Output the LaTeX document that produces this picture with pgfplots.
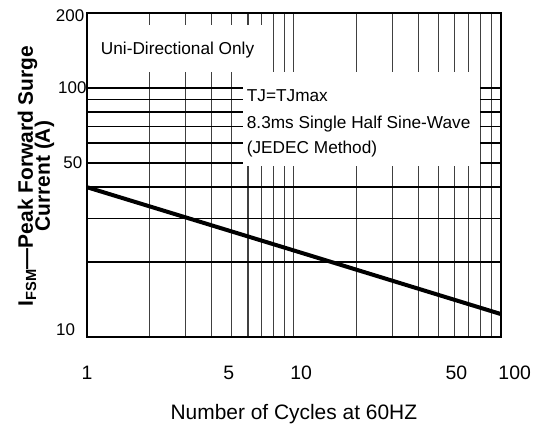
\documentclass[border=0pt]{standalone}
\usepackage{pgfplots}
\pgfplotsset{compat=1.18}
\usepackage{fontspec}
\setmainfont{Liberation Sans}

% surge current vs number of cycles
\pgfplotstableread{
n     I
1     40
10    22.3
100   12.4
}\surge

\begin{document}
\begin{tikzpicture}
\begin{axis}[
  name=ax,
  scale only axis,
  width=413.7bp, height=324.3bp,
  clip=false,
  xmode=log, ymode=log,
  xmin=1, xmax=100, ymin=10, ymax=200,
  xtick={1,4.84,10.85,61.1},
  xticklabels={1,5,10,50},
  extra x ticks={100},
  extra x tick labels={100},
  extra x tick style={xticklabel style={xshift=14bp}},
  ytick={10.75,50,100,196},
  yticklabels={10\hspace*{11.5bp},50\hspace*{4.3bp},100,200\hspace*{2.3bp}},
  minor xtick={2,3,4,5,6,7,8,9,10,20,30,40,50,60,70,80,90},
  minor ytick={20,30,40,50,60,70,80,90,100},
  xminorgrids, yminorgrids,
  minor x grid style={line width=1.2bp, color=black!75},
  minor y grid style={line width=1.7bp, color=black},
  major tick length=0pt, minor tick length=0pt,
  axis line style={line width=1.8bp},
  /pgf/number format/assume math mode=true,
  xticklabel style={font=\fontsize{19.5}{19.5}\selectfont, yshift=-25bp},
  yticklabel style={font=\fontsize{17}{17}\selectfont, xshift=3bp},
  xlabel={Number of Cycles at 60HZ},
  xlabel style={font=\fontsize{21}{21}\selectfont, yshift=-18bp},
]
% white boxes that hide the grid behind the notes
\fill[white] (rel axis cs:0.005,0.963) rectangle (rel axis cs:0.441,0.819);
\fill[white] (rel axis cs:0.377,0.819) rectangle (rel axis cs:0.950,0.528);

\node[anchor=west, inner sep=0pt, font=\fontsize{17.3}{17.3}\selectfont]
  at (rel axis cs:0.0332,0.886) {Uni-Directional Only};
\node[anchor=west, inner sep=0pt, font=\fontsize{17.3}{17.3}\selectfont]
  at (rel axis cs:0.386,0.744) {TJ=TJmax};
\node[anchor=west, inner sep=0pt, font=\fontsize{17.3}{17.3}\selectfont]
  at (rel axis cs:0.386,0.659) {8.3ms Single Half Sine-Wave};
\node[anchor=west, inner sep=0pt, font=\fontsize{17.3}{17.3}\selectfont]
  at (rel axis cs:0.386,0.580) {(JEDEC Method)};

\addplot[line width=4bp, black] table[x=n, y=I] {\surge};

% y axis title, two centred lines set tight
\node[rotate=90, anchor=center, inner sep=0pt, align=center,
      font=\bfseries\fontsize{21}{21}\selectfont]
  at (rel axis cs:-0.1233,0.497)
  {I\textsubscript{FSM}---Peak Forward Surge\\[-4bp]Current (A)};
\end{axis}
\pgfresetboundingbox
\path[use as bounding box] ([shift={(-87bp,-88bp)}]ax.south west)
  rectangle ([shift={(38.3bp,13bp)}]ax.north east);
\end{tikzpicture}
\end{document}
